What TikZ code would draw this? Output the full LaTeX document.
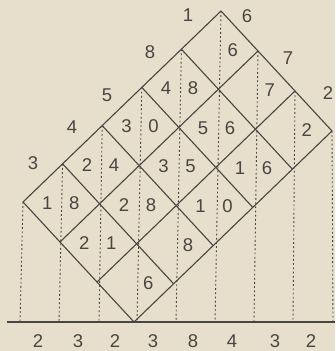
\documentclass[tikz,border=0pt]{standalone}
\usepackage{fontspec}
\setmainfont{Liberation Sans}
\definecolor{paper}{RGB}{231,222,203}
\definecolor{inkc}{RGB}{72,70,66}
\begin{document}
\begin{tikzpicture}[x=1pt,y=-1pt,
  ink/.style={draw=inkc, line width=1.1pt},
  guide/.style={draw=inkc, line width=0.9pt, dash pattern=on 1.8pt off 2.4pt},
  dig/.style={text=inkc, font=\fontsize{18.5}{18.5}\selectfont, inner sep=0pt}]
\fill[paper] (0,0) rectangle (335,351);
\useasboundingbox (0,0) rectangle (335,351);
% lattice points
\foreach \i in {0,...,5}{\foreach \j in {0,...,3}{
  \coordinate (p\i\j) at ({221-39.6*\i+37*\j},{11+38.2*\i+40*\j});}}
\foreach \i in {0,...,4}{\foreach \j in {0,...,2}{
  \coordinate (c\i\j) at ({221-39.6*(\i+0.5)+37*(\j+0.5)},{11+38.2*(\i+0.5)+40*(\j+0.5)});}}
% baseline
\coordinate (bl) at (7,322);
\coordinate (br) at (335,322);
\draw[ink] (bl) -- (br);
% dotted verticals
\foreach \t/\x [count=\k] in {p50/20,p40/59,p30/99,p20/137,p10/176,p00/215,p01/254,p02/293,p03/333}{
  \coordinate (b\k) at (\x,322);
  \draw[guide] (\t) -- (b\k);}
% solid lattice
\foreach \i in {0,...,5}{\draw[ink] (p\i0) -- (p\i3);}
\foreach \j in {0,...,3}{\draw[ink] (p0\j) -- (p5\j);}
% units digits
\foreach \i/\j/\d in {0/0/6,0/1/7,0/2/2,1/0/8,1/1/6,1/2/6,2/0/0,2/1/5,2/2/0,3/0/4,3/1/8,3/2/8,4/0/8,4/1/1,4/2/6}{
  \node[dig] (u\i\j) at ([xshift=13pt]c\i\j) {\d};}
% tens digits
\foreach \i/\j/\d in {1/0/4,1/1/5,1/2/1,2/0/3,2/1/3,2/2/1,3/0/2,3/1/2,4/0/1,4/1/2}{
  \node[dig] (t\i\j) at ([xshift=-14pt]c\i\j) {\d};}
% multiplicand along top-left edge
\node[dig] (m1) at (188,15) {1};
\node[dig] (m2) at (150,52) {8};
\node[dig] (m3) at (107,95) {5};
\node[dig] (m4) at (72,127) {4};
\node[dig] (m5) at (33,163) {3};
% multiplier along top-right edge
\node[dig] (n1) at (247,16) {6};
\node[dig] (n2) at (288,58) {7};
\node[dig] (n3) at (328,93) {2};
% result
\foreach \x/\d [count=\k] in {38/2,78/3,115/2,153/3,193/8,232/4,275/3,311/2}{
  \node[dig] (r\k) at (\x,341) {\d};}
\end{tikzpicture}
\end{document}
